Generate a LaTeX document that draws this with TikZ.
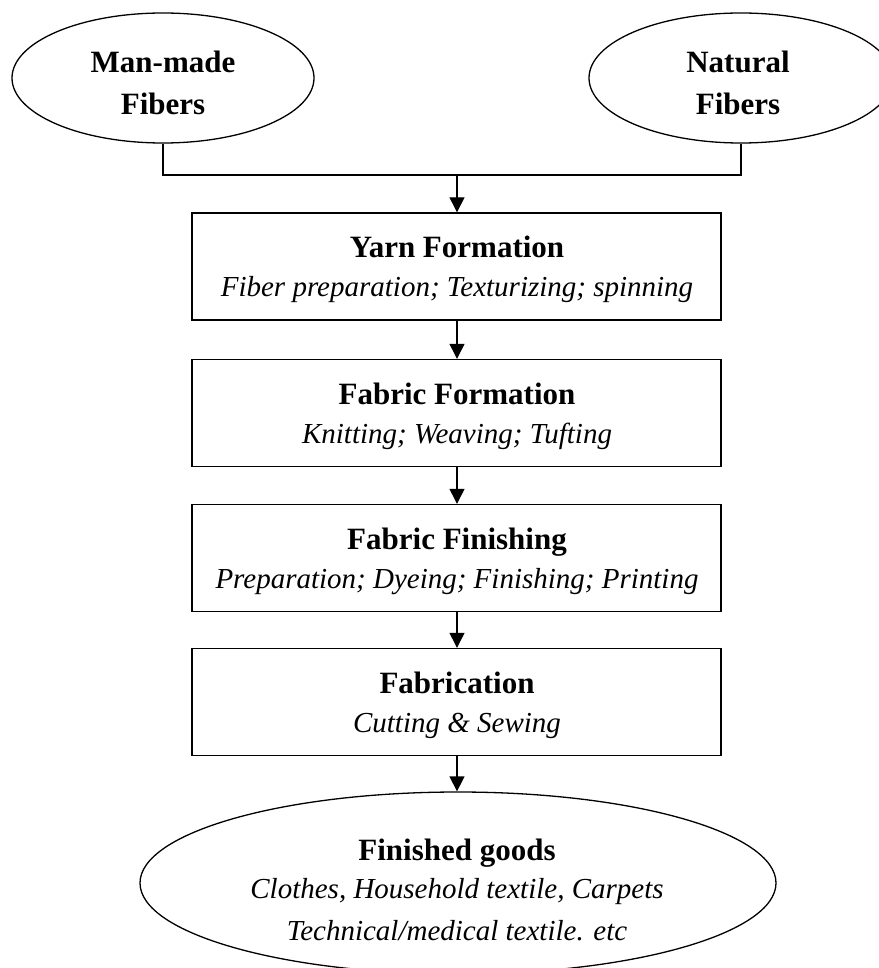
\documentclass[tikz,border=0pt]{standalone}
\usepackage{fontspec}
\setmainfont{Liberation Serif}
\usetikzlibrary{shapes.geometric,arrows.meta}
\tikzset{
  oval/.style={draw, ellipse, line width=1.3pt, inner sep=0pt},
  stagebox/.style={draw, rectangle, line width=1.4pt, inner sep=0pt, minimum width=529pt, minimum height=107pt},
  ttl/.style={font=\fontsize{31}{31}\selectfont\bfseries, anchor=base, inner sep=0pt},
  sub/.style={font=\fontsize{29}{29}\selectfont\itshape, anchor=base, inner sep=0pt},
  link/.style={line width=1.3pt},
  arr/.style={line width=1.3pt, -{Triangle[length=15pt,width=15pt]}}
}
\begin{document}
\begin{tikzpicture}[x=1pt,y=-1pt]
\useasboundingbox (0,0) rectangle (878,968);
% top ellipses
\node[oval, minimum width=302pt, minimum height=130pt] (mm) at (163,78) {};
\node[ttl] (mmA) at (163,73) {Man-made};
\node[ttl] (mmB) at (163,115) {Fibers};
\node[oval, minimum width=304pt, minimum height=130pt] (nat) at (741,78) {};
\node[ttl] (natA) at (738,73) {Natural};
\node[ttl] (natB) at (738,115) {Fibers};
\coordinate (join) at (457,175);
\draw[link] (mm.south) |- (join) -| (nat.south);
% boxes
\node[stagebox] (yarn) at (456.5,266.5) {};
\node[ttl] (yarnA) at (457,257) {Yarn Formation};
\node[sub] (yarnB) at (457,296) {Fiber preparation; Texturizing; spinning};
\node[stagebox] (ff) at (456.5,413) {};
\node[ttl] (ffA) at (457,404) {Fabric Formation};
\node[sub] (ffB) at (457,443) {Knitting; Weaving; Tufting};
\node[stagebox] (fin) at (456.5,558) {};
\node[ttl] (finA) at (457,549) {Fabric Finishing};
\node[sub] (finB) at (457,588) {Preparation; Dyeing; Finishing; Printing};
\node[stagebox] (fab) at (456.5,702) {};
\node[ttl] (fabA) at (457,693) {Fabrication};
\node[sub] (fabB) at (457,732) {Cutting \& Sewing};
% bottom ellipse
\node[oval, minimum width=636pt, minimum height=182pt] (goods) at (458,883) {};
\node[ttl] (goodsA) at (457,860) {Finished goods};
\node[sub] (goodsB) at (457,898) {Clothes, Household textile, Carpets};
\node[sub] (goodsC) at (457,940) {Technical/medical textile. etc};
% arrows
\draw[arr] (join) -- (join |- yarn.north);
\draw[arr] (yarn.south -| join) -- (ff.north -| join);
\draw[arr] (ff.south -| join) -- (fin.north -| join);
\draw[arr] (fin.south -| join) -- (fab.north -| join);
\draw[arr] (fab.south -| join) -- (join |- goods.north);
\end{tikzpicture}
\end{document}
